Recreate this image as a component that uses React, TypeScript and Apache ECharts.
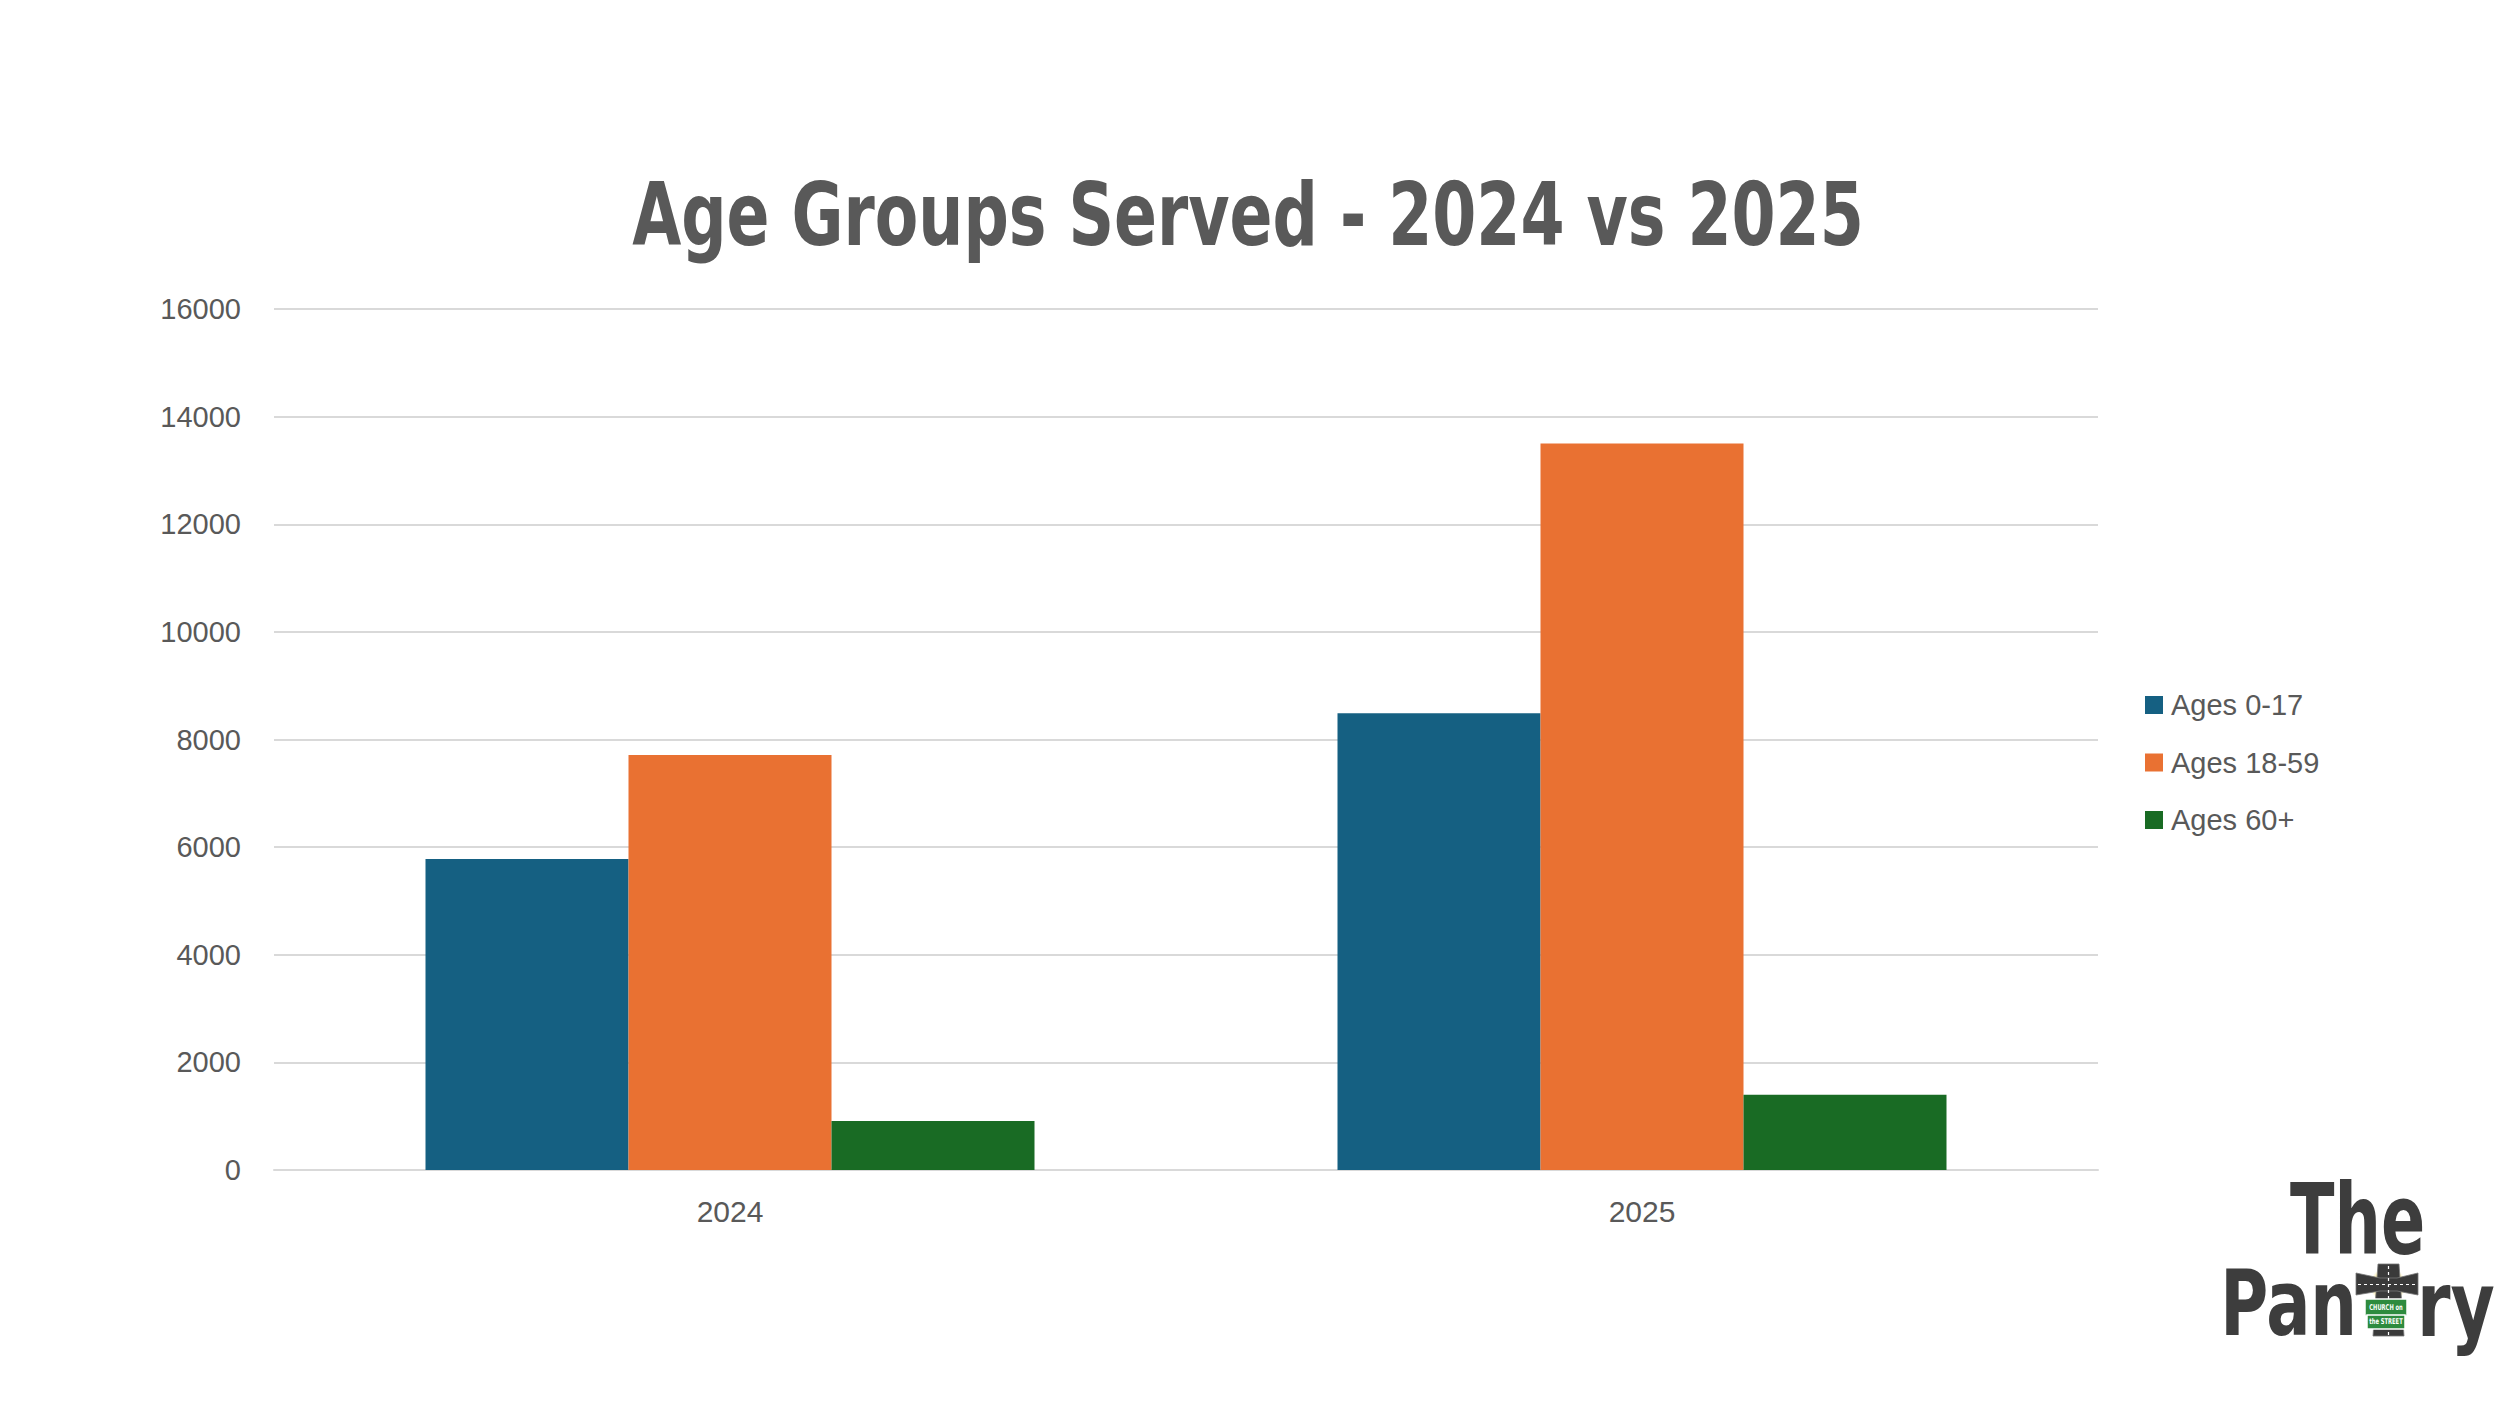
import React, { useEffect, useRef } from 'react';
import * as echarts from 'echarts';

const categories = ['2024', '2025'];
const seriesNames = ['Ages 0-17', 'Ages 18-59', 'Ages 60+'];
const ages0to17 = [5780, 8490];
const ages18to59 = [7710, 13500];
const ages60plus = [910, 1400];
const seriesColors = ['#156082', '#E97132', '#196B24'];
const yMin = 0;
const yMax = 16000;
const yInterval = 2000;
const titleText = 'Age Groups Served - 2024 vs 2025';

const condensed = "'Liberation Sans Narrow', 'DejaVu Sans Condensed', 'Liberation Sans', sans-serif";
const sans = "'Liberation Sans', Arial, sans-serif";

export default function App() {
  const ref = useRef<HTMLDivElement>(null);
  useEffect(() => {
    document.body.style.margin = '0';
    const chart = echarts.init(ref.current as HTMLDivElement, undefined, {
      renderer: 'svg',
      width: 2500,
      height: 1406,
    });
    const values = [ages0to17, ages18to59, ages60plus];
    const option: any = {
      animation: false,
      backgroundColor: '#ffffff',
      legend: {
        orient: 'vertical',
        left: 2145,
        top: 690,
        padding: 0,
        itemWidth: 18,
        itemHeight: 18,
        itemGap: 27.5,
        icon: 'rect',
        data: seriesNames,
        textStyle: {
          fontSize: 29,
          lineHeight: 30,
          color: '#595959',
          fontFamily: sans,
          padding: [0, 0, 0, 3],
        },
      },
      grid: {
        left: 274,
        right: 402,
        top: 309,
        bottom: 236,
        containLabel: false,
        outerBoundsMode: 'none',
      },
      xAxis: {
        type: 'category',
        data: categories,
        axisTick: { show: false },
        axisLine: { show: true, lineStyle: { color: '#d9d9d9', width: 2 } },
        axisLabel: {
          fontSize: 30,
          lineHeight: 30,
          margin: 26,
          color: '#595959',
          fontFamily: sans,
        },
      },
      yAxis: {
        type: 'value',
        min: yMin,
        max: yMax,
        interval: yInterval,
        axisLine: { show: false },
        axisTick: { show: false },
        splitLine: { lineStyle: { color: '#d9d9d9', width: 2 } },
        axisLabel: {
          fontSize: 29,
          margin: 33,
          color: '#595959',
          fontFamily: sans,
          formatter: (v: number) => String(v),
        },
      },
      series: seriesNames.map((name, i) => ({
        name,
        type: 'bar',
        data: values[i],
        barWidth: 203,
        barGap: '0%',
        itemStyle: { color: seriesColors[i] },
      })),
      graphic: [
        {
          type: 'text',
          x: 1248,
          y: 215,
          scaleX: 0.8,
          style: {
            text: titleText,
            x: 0,
            y: 0,
            align: 'center',
            verticalAlign: 'middle',
            fontSize: 88,
            fontWeight: 'bold',
            fontFamily: condensed,
            fill: '#595959',
          },
        },
        {
          type: 'text',
          x: 2290,
          y: 1220,
          scaleX: 0.74,
          style: {
            text: 'The',
            x: 0,
            y: 0,
            align: 'left',
            verticalAlign: 'middle',
            fontSize: 98,
            fontWeight: 'bold',
            fontFamily: condensed,
            fill: '#3d3d3d',
          },
        },
        {
          type: 'text',
          x: 2357,
          y: 1304,
          scaleX: 0.8,
          style: {
            text: 'Pan',
            x: 0,
            y: 0,
            align: 'right',
            verticalAlign: 'middle',
            fontSize: 91,
            fontWeight: 'bold',
            fontFamily: condensed,
            fill: '#3d3d3d',
          },
        },
        {
          type: 'text',
          x: 2417,
          y: 1304,
          scaleX: 0.83,
          style: {
            text: 'ry',
            x: 0,
            y: 0,
            align: 'left',
            verticalAlign: 'middle',
            fontSize: 91,
            fontWeight: 'bold',
            fontFamily: condensed,
            fill: '#3d3d3d',
          },
        },
        {
          type: 'circle',
          shape: { cx: 2388, cy: 1285, r: 18 },
          style: {
            fill: {
              type: 'radial',
              x: 0.5,
              y: 0.5,
              r: 0.5,
              colorStops: [
                { offset: 0, color: 'rgba(255,240,120,1)' },
                { offset: 0.6, color: 'rgba(250,220,60,0.8)' },
                { offset: 1, color: 'rgba(250,220,60,0)' },
              ],
            },
          },
        },
        {
          type: 'polygon',
          shape: { points: [[2378, 1264], [2399, 1264], [2404, 1336], [2373, 1336]] },
          style: { fill: '#3a3a3a', stroke: '#777', lineWidth: 0.8 },
        },
        {
          type: 'polygon',
          shape: {
            points: [
              [2356, 1273], [2380, 1278], [2397, 1278], [2418, 1273],
              [2418, 1295], [2397, 1291], [2380, 1291], [2356, 1295],
            ],
          },
          style: { fill: '#3a3a3a', stroke: '#777', lineWidth: 0.8 },
        },
        {
          type: 'line',
          shape: { x1: 2388.5, y1: 1266, x2: 2388.5, y2: 1335 },
          style: { stroke: '#ffffff', lineWidth: 1.2, lineDash: [3, 3] },
        },
        {
          type: 'line',
          shape: { x1: 2358, y1: 1284.5, x2: 2416, y2: 1284.5 },
          style: { stroke: '#ffffff', lineWidth: 1.2, lineDash: [3, 3] },
        },
        {
          type: 'rect',
          shape: { x: 2365, y: 1299, width: 42, height: 17 },
          style: { fill: '#2e8b3e', stroke: '#ffffff', lineWidth: 1.5 },
        },
        {
          type: 'text',
          x: 2386,
          y: 1307.5,
          scaleX: 0.72,
          style: {
            text: 'CHURCH on',
            x: 0,
            y: 0,
            align: 'center',
            verticalAlign: 'middle',
            fontSize: 8,
            fontWeight: 'bold',
            fontFamily: condensed,
            fill: '#ffffff',
          },
        },
        {
          type: 'rect',
          shape: { x: 2367, y: 1315, width: 38, height: 14 },
          style: { fill: '#2e8b3e', stroke: '#ffffff', lineWidth: 1.5 },
        },
        {
          type: 'text',
          x: 2386,
          y: 1322,
          scaleX: 0.72,
          style: {
            text: 'the STREET',
            x: 0,
            y: 0,
            align: 'center',
            verticalAlign: 'middle',
            fontSize: 8,
            fontWeight: 'bold',
            fontFamily: condensed,
            fill: '#ffffff',
          },
        },
      ],
    };
    chart.setOption(option);
    return () => chart.dispose();
  }, []);
  return <div ref={ref} style={{ width: 2500, height: 1406, background: '#ffffff' }} />;
}
